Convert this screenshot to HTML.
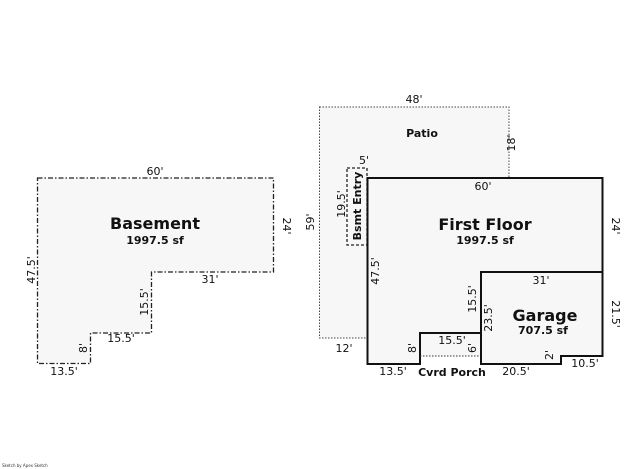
<!DOCTYPE html>
<html><head><meta charset="utf-8"><style>
html,body{margin:0;padding:0;background:#fff;}
svg{display:block;font-family:"DejaVu Sans","Liberation Sans",sans-serif;}
</style></head><body>
<svg width="640" height="469" viewBox="0 0 640 469" xmlns="http://www.w3.org/2000/svg">
<g fill="#f7f7f7">
<polygon points="319.5,107 509,107 509,338 319.5,338"/>
</g>
<!-- patio -->
<polygon points="319.5,107 509,107 509,338 319.5,338" fill="#f7f7f7" stroke="#444" stroke-width="1" stroke-dasharray="1.5,1.5"/>
<!-- basement -->
<polygon points="37.5,178 273.5,178 273.5,272 151.5,272 151.5,333 90.5,333 90.5,363.5 37.5,363.5" fill="#f7f7f7" stroke="#222" stroke-width="1.3" stroke-dasharray="5,2,1.5,2"/>
<!-- bsmt entry -->
<rect x="347" y="168" width="20" height="77" fill="#f7f7f7" stroke="#222" stroke-width="1.3" stroke-dasharray="3,2"/>
<!-- first floor -->
<polygon points="367.5,178 602.5,178 602.5,356 561,356 561,364 481,364 481,333 420,333 420,364 367.5,364" fill="#f7f7f7" stroke="#111" stroke-width="2"/>
<rect x="420" y="333" width="61" height="23" fill="#f7f7f7"/>
<polyline points="420,364 420,333 481,333" fill="none" stroke="#111" stroke-width="2"/>
<line x1="420" y1="356" x2="481" y2="356" stroke="#333" stroke-width="1" stroke-dasharray="1.5,1.5"/>
<polyline points="481,364 481,272 602.5,272" fill="none" stroke="#111" stroke-width="2"/>
<g font-size="11" fill="#111" text-anchor="middle">
<text x="155" y="175">60'</text>
<text x="128" y="269" font-size="0"></text>
<text x="210" y="283">31'</text>
<text x="121" y="342">15.5'</text>
<text x="64" y="375">13.5'</text>
<text x="414" y="103">48'</text>
<text x="364" y="164">5'</text>
<text x="483" y="190">60'</text>
<text x="541" y="284">31'</text>
<text x="452" y="344">15.5'</text>
<text x="344" y="352">12'</text>
<text x="393" y="375">13.5'</text>
<text x="516" y="375">20.5'</text>
<text x="585" y="367">10.5'</text>
<text transform="translate(283,226) rotate(90)">24'</text>
<text transform="translate(35,270) rotate(-90)">47.5'</text>
<text transform="translate(148,302) rotate(-90)">15.5'</text>
<text transform="translate(87,348) rotate(-90)">8'</text>
<text transform="translate(515,143) rotate(-90)">18'</text>
<text transform="translate(314,222) rotate(-90)">59'</text>
<text transform="translate(345,204) rotate(-90)">19.5'</text>
<text transform="translate(379,271) rotate(-90)">47.5'</text>
<text transform="translate(476,299) rotate(-90)">15.5'</text>
<text transform="translate(492,318) rotate(-90)">23.5'</text>
<text transform="translate(416,348) rotate(-90)">8'</text>
<text transform="translate(476,348) rotate(-90)">6'</text>
<text transform="translate(553,355) rotate(-90)">2'</text>
<text transform="translate(612,226) rotate(90)">24'</text>
<text transform="translate(612,314) rotate(90)">21.5'</text>
</g>
<g font-weight="bold" fill="#111" text-anchor="middle">
<text x="155" y="229" font-size="16">Basement</text>
<text x="155" y="244" font-size="11">1997.5 sf</text>
<text x="422" y="137" font-size="11">Patio</text>
<text x="485" y="230" font-size="16">First Floor</text>
<text x="485" y="244" font-size="11">1997.5 sf</text>
<text x="545" y="321" font-size="16">Garage</text>
<text x="543" y="334" font-size="11">707.5 sf</text>
<text x="452" y="376" font-size="11">Cvrd Porch</text>
<text transform="translate(361,206) rotate(-90)" font-size="11">Bsmt Entry</text>
</g>
<text x="2" y="467" font-size="4" fill="#333">Sketch by Apex Sketch</text>
</svg>
</body></html>
